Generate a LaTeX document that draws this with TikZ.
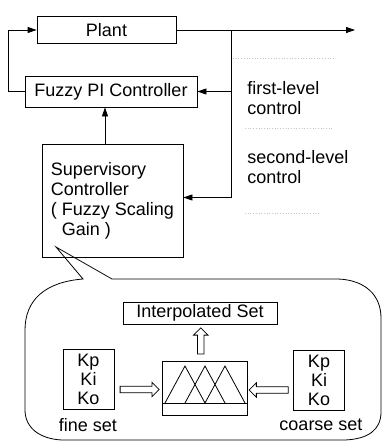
\documentclass[tikz,border=0pt]{standalone}
\usepackage{fontspec}
\setmainfont{Liberation Sans}
\usetikzlibrary{arrows.meta,shapes.arrows,calc}
\begin{document}
\begin{tikzpicture}[x=1pt,y=-1pt,line width=0.8pt,
  every node/.style={font=\fontsize{18}{20}\selectfont},
  blk/.style={draw,inner sep=0pt},
  arr/.style={-{Triangle[length=9pt,width=6pt]}},
  hollow/.style={draw,single arrow,inner sep=2.8pt,single arrow head extend=4pt,single arrow tip angle=90,minimum height=#1},
  faint/.style={gray!45,dotted,line width=0.7pt},
  lbl/.style={align=left,anchor=west,inner sep=0pt}]
\useasboundingbox (0,0) rectangle (384,447);
% top loop
\node[blk,minimum width=139pt,minimum height=27pt] (plant) at (106.5,30) {Plant};
\node[blk,minimum width=172pt,minimum height=31pt] (pi) at (111,91.5) {Fuzzy PI Controller};
\node[blk,minimum width=141pt,minimum height=113pt,align=left] (sup) at (112.5,200.5)
  {Supervisory\\Controller\\( Fuzzy Scaling\\\hphantom{( }Gain )};
\coordinate (out) at (355,30);
\coordinate (br) at (231,30);
\coordinate (fb) at (8,30);
\draw[arr] (plant.east) -- (out);
\draw[arr] (br) |- ([yshift=3pt]sup.east);
\draw[arr] (br |- pi.east) -- (pi.east);
\draw[arr] (pi.west) -- (fb |- pi.west) -- (fb) -- (plant.west);
\draw[arr] ([xshift=-7.5pt]sup.north) -- ([xshift=-7.5pt]sup.north |- pi.south);
\node[lbl] (l1) at (247,98) {first-level\\control};
\node[lbl] (l2) at (247,167) {second-level\\control};
\draw[faint] (233,58) -- (333,58);
\draw[faint] (245,128) -- (333,128);
\draw[faint] (245,213) -- (320,213);
% callout bubble
\draw (56,247) -- (83,279) .. controls (45,282) and (25,300) .. (25,330) -- (25,410)
  .. controls (25,428) and (40,439) .. (62,440) -- (345,440)
  .. controls (368,439) and (381,430) .. (381,412) -- (381,318)
  .. controls (381,295) and (365,280) .. (338,279) -- (112,279) -- cycle;
% inner content
\node[blk,minimum width=154pt,minimum height=22pt] (interp) at (200,313) {Interpolated Set};
\node[blk,minimum width=51pt,minimum height=60pt,align=center,font=\fontsize{18}{19}\selectfont] (fine) at (88.5,379) {Kp\\Ki\\Ko};
\node[blk,minimum width=51pt,minimum height=60pt,align=center,font=\fontsize{18}{19}\selectfont] (coarse) at (319,380) {Kp\\Ki\\Ko};
\node[blk,minimum width=85pt,minimum height=54pt] (mf) at (204.5,388) {};
\draw (mf.west |- 0,403) -- (mf.east |- 0,403);
\draw (165,403) -- (185,366) -- (205,403);
\draw (185,403) -- (205,366) -- (225,403);
\draw (205,403) -- (225,366) -- (245,403);
\node[inner sep=0pt] (fl) at (88,425) {fine set};
\node[inner sep=0pt] (cl) at (321,425) {coarse set};
\node[hollow=39pt] (a1) at ($(fine.east)!0.5!(mf.west)+(0,6)$) {};
\node[hollow=39pt,shape border rotate=180] (a2) at ($(coarse.west)!0.5!(mf.east)+(0,6)$) {};
\node[hollow=26pt,shape border rotate=90] (a3) at ($(mf.north)!0.5!(interp.south)+(-1.5,0)$) {};
\end{tikzpicture}
\end{document}
